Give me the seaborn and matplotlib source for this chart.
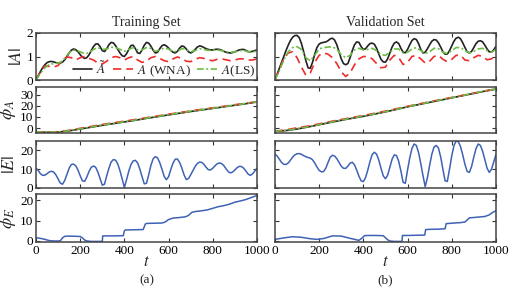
import matplotlib
matplotlib.use("Agg")
import matplotlib.pyplot as plt
import numpy as np
import pandas as pd
import seaborn as sns

# time grids the values were read on
t10 = np.arange(0, 1001, 10)
t20 = np.arange(0, 1001, 20)
t50 = np.arange(0, 1001, 50)

# |A| -- training set (A tilde on t10, the others on t20)
amp_tilde_tr = [0.0, 0.18, 0.36, 0.52, 0.65, 0.74, 0.78, 0.79, 0.77, 0.74, 0.72, 0.72, 0.76, 0.86, 1.0,
                1.15, 1.27, 1.32, 1.29, 1.2, 1.08, 0.97, 0.92, 0.95, 1.07, 1.25, 1.42, 1.53, 1.54, 1.42,
                1.25, 1.21, 1.33, 1.5, 1.6, 1.58, 1.46, 1.3, 1.15, 1.03, 1.0, 1.12, 1.3, 1.47, 1.48,
                1.33, 1.15, 1.13, 1.28, 1.48, 1.6, 1.57, 1.44, 1.27, 1.15, 1.18, 1.33, 1.46, 1.5, 1.45,
                1.36, 1.26, 1.18, 1.15, 1.22, 1.36, 1.45, 1.42, 1.32, 1.2, 1.15, 1.2, 1.3, 1.4, 1.45,
                1.43, 1.38, 1.33, 1.3, 1.28, 1.28, 1.3, 1.31, 1.3, 1.27, 1.22, 1.18, 1.16, 1.15, 1.17,
                1.2, 1.24, 1.28, 1.3, 1.3, 1.26, 1.21, 1.2, 1.22, 1.25, 1.28]
amp_wna_tr = [0.0, 0.35, 0.6, 0.58, 0.55, 0.62, 0.85, 0.98, 0.95, 0.85, 0.95, 1.0, 0.92, 0.85, 0.72, 0.68,
              0.8, 0.95, 1.0, 0.95, 0.85, 0.95, 1.0, 0.85, 0.75, 0.8, 0.95, 1.0, 0.92, 0.82, 0.78, 0.9, 0.98,
              0.92, 0.8, 0.78, 0.88, 0.95, 0.92, 0.85, 0.82, 0.88, 0.9, 0.86, 0.82, 0.85, 0.9, 0.9, 0.85, 0.85, 0.9]
amp_ls_tr = [0.0, 0.28, 0.52, 0.66, 0.7, 0.72, 0.8, 1.05, 1.25, 1.27, 1.2, 1.12, 1.15, 1.3, 1.38, 1.3,
             1.32, 1.4, 1.38, 1.3, 1.22, 1.3, 1.38, 1.28, 1.28, 1.38, 1.35, 1.22, 1.28, 1.36, 1.32, 1.2, 1.22,
             1.34, 1.3, 1.2, 1.25, 1.33, 1.3, 1.26, 1.27, 1.28, 1.25, 1.2, 1.18, 1.2, 1.25, 1.26, 1.2, 1.2, 1.22]

# |A| -- validation set
amp_tilde_va = [0.0, 0.25, 0.5, 0.75, 1.0, 1.25, 1.48, 1.68, 1.82, 1.89, 1.9, 1.8, 1.55, 1.2, 0.82, 0.52,
                0.5, 0.75, 1.1, 1.38, 1.53, 1.58, 1.6, 1.62, 1.67, 1.75, 1.78, 1.7, 1.5, 1.2, 0.9, 0.7,
                0.65, 0.7, 0.95, 1.25, 1.5, 1.62, 1.6, 1.42, 1.3, 1.33, 1.45, 1.55, 1.57, 1.52, 1.35,
                1.1, 0.88, 0.77, 0.76, 0.9, 1.15, 1.4, 1.57, 1.62, 1.55, 1.35, 1.18, 1.16, 1.3, 1.5,
                1.68, 1.76, 1.72, 1.55, 1.3, 1.15, 1.18, 1.33, 1.5, 1.65, 1.72, 1.7, 1.58, 1.4, 1.2,
                1.1, 1.1, 1.25, 1.45, 1.65, 1.78, 1.82, 1.75, 1.58, 1.38, 1.2, 1.15, 1.22, 1.38, 1.55,
                1.65, 1.67, 1.62, 1.48, 1.32, 1.2, 1.19, 1.28, 1.43]
amp_wna_va = [0.0, 0.45, 0.9, 1.15, 1.2, 0.95, 0.55, 0.2, 0.3, 0.75, 1.05, 1.15, 1.1, 0.95, 0.7, 0.35,
              0.15, 0.3, 0.65, 0.9, 1.0, 1.0, 0.9, 0.7, 0.52, 0.55, 0.85, 1.05, 0.95, 0.66, 0.75, 1.0, 1.05,
              0.9, 0.72, 0.8, 1.0, 1.05, 0.88, 0.78, 0.88, 1.05, 1.05, 0.85, 0.82, 0.95, 1.05, 1.0, 0.86, 0.9, 1.05]
amp_ls_va = [0.0, 0.4, 0.85, 1.2, 1.38, 1.42, 1.3, 0.95, 0.82, 1.05, 1.32, 1.38, 1.4, 1.42, 1.3, 1.08,
             0.95, 1.05, 1.28, 1.35, 1.28, 1.3, 1.35, 1.25, 1.08, 1.05, 1.18, 1.32, 1.32, 1.15, 1.18, 1.32, 1.38,
             1.25, 1.12, 1.2, 1.35, 1.33, 1.18, 1.12, 1.25, 1.38, 1.38, 1.25, 1.15, 1.22, 1.32, 1.35, 1.25, 1.18, 1.3]

# phi_A (t50)
ph_tilde_tr = [-3.5, -3.8, -3.6, -2.5, -0.8, 0.8, 2.5, 4.0, 5.5, 7.0, 8.7, 10.2, 11.8, 13.3, 14.8, 16.2,
               17.6, 19.0, 20.4, 21.8, 23.3]
ph_wna_tr = [-3.5, -3.6, -3.2, -2.0, -0.2, 1.5, 3.2, 4.7, 6.2, 7.7, 9.3, 10.8, 12.4, 13.9, 15.3, 16.8,
             18.1, 19.5, 20.9, 22.2, 23.6]
ph_ls_tr = [-3.4, -3.6, -3.4, -2.3, -0.6, 1.0, 2.7, 4.2, 5.7, 7.2, 8.9, 10.4, 12.0, 13.5, 15.0, 16.4,
            17.8, 19.2, 20.6, 22.0, 23.5]
ph_tilde_va = [-3.0, -2.2, -0.8, 1.0, 3.0, 5.0, 7.0, 8.8, 10.5, 12.5, 14.5, 16.7, 19.0, 21.0, 23.0, 25.0,
               27.0, 29.0, 31.0, 33.0, 34.8]
ph_wna_va = [-2.8, -1.5, 0.2, 1.8, 3.8, 5.8, 7.7, 9.5, 11.2, 13.2, 15.2, 17.3, 19.5, 21.5, 23.5, 25.4,
             27.4, 29.3, 31.2, 33.2, 35.0]
ph_ls_va = [-2.9, -2.0, -0.6, 1.2, 3.2, 5.2, 7.2, 9.0, 10.7, 12.7, 14.7, 16.9, 19.2, 21.2, 23.2, 25.2,
            27.2, 29.2, 31.2, 33.2, 35.0]

# |E| (t10)
err_tr = [10.6, 9.3, 7.6, 6.7, 6.8, 7.6, 8.5, 8.9, 8.5, 7.0, 4.8, 2.6, 2.0, 4.0, 7.2, 10.5, 12.5, 12.7,
          11.8, 9.5, 6.5, 3.8, 3.5, 5.8, 8.8, 11.0, 11.7, 11.0, 8.5, 5.0, 1.5, 2.0, 6.5, 10.5, 13.8, 15.1,
          14.8, 12.8, 9.2, 4.8, 0.3, 4.5, 9.0, 12.5, 14.4, 14.7, 13.3, 10.0, 6.0, 2.2, 2.5, 7.0, 12.0,
          15.5, 16.7, 16.0, 13.5, 10.0, 6.2, 4.4, 6.0, 9.8, 13.2, 15.3, 15.4, 13.6, 10.6, 7.0, 4.5, 5.0,
          7.0, 9.2, 11.4, 13.0, 13.8, 13.6, 12.6, 11.0, 9.7, 9.6, 10.5, 11.8, 12.9, 13.3, 13.0, 11.9,
          10.2, 8.7, 8.0, 8.5, 9.6, 10.8, 11.5, 11.4, 10.5, 9.0, 7.4, 6.7, 7.5, 9.0, 10.6]
err_va = [18.0, 17.0, 15.3, 13.6, 12.6, 12.5, 13.3, 14.8, 16.4, 17.6, 18.2, 18.3, 17.9, 17.2, 16.6, 16.2,
          15.9, 15.0, 13.3, 11.2, 9.4, 8.6, 8.7, 10.5, 13.5, 16.3, 17.4, 17.0, 15.6, 13.6, 11.6, 10.5,
          10.4, 11.6, 13.2, 13.7, 12.3, 9.5, 6.3, 3.8, 3.4, 5.5, 9.5, 14.0, 17.8, 19.0, 18.0, 14.8, 10.5,
          6.5, 4.9, 6.8, 11.0, 15.3, 17.6, 17.3, 14.2, 9.0, 3.0, 2.5, 9.5, 16.0, 21.0, 23.4, 22.6, 18.8,
          13.0, 6.5, 0.7, 5.5, 12.0, 18.0, 21.8, 22.6, 21.2, 16.5, 10.0, 3.8, 3.5, 10.0, 17.0, 22.5,
          25.0, 24.6, 22.0, 17.5, 12.5, 8.8, 8.3, 11.5, 16.5, 21.0, 23.4, 22.6, 19.5, 15.0, 10.5, 8.3,
          10.0, 13.8, 17.7]

# phi_E
tE_tr = [0, 20, 40, 60, 80, 100, 110, 120, 130, 150, 180, 200, 210, 220, 230, 250, 280, 300, 302, 310,
         350, 395, 400, 405, 450, 485, 495, 500, 540, 570, 585, 600, 620, 650, 675, 690, 705, 720, 750,
         775, 800, 825, 850, 875, 900, 925, 950, 975, 1000]
phE_tr = [1.6, 1.3, 0.8, 0.2, 0.0, 0.0, 0.1, 1.5, 2.3, 2.4, 2.3, 2.2, 1.5, 0.5, 0.0, -0.2, -0.2, -0.2,
          2.5, 2.5, 2.5, 2.6, 5.0, 5.4, 5.5, 5.6, 8.3, 8.6, 8.7, 8.8, 9.3, 10.5, 11.2, 11.5, 11.8, 12.5,
          14.0, 14.4, 14.8, 15.2, 16.0, 16.8, 17.3, 18.0, 19.0, 19.6, 20.3, 21.3, 22.3]
tE_va = [0, 40, 80, 120, 160, 190, 220, 260, 300, 340, 380, 395, 405, 420, 450, 490, 500, 510, 520, 540,
         575, 577, 600, 640, 678, 682, 700, 740, 770, 775, 800, 840, 860, 870, 880, 920, 950, 970, 985, 1000]
phE_va = [0.8, 1.5, 2.1, 1.8, 1.1, 0.8, 1.2, 2.5, 2.4, 1.3, 0.3, 1.5, 2.6, 2.7, 2.7, 2.6, 1.6, 0.6, 0.0,
          -0.2, -0.2, 2.7, 2.7, 2.8, 2.9, 5.6, 5.7, 5.8, 6.0, 8.5, 8.7, 9.0, 9.3, 10.3, 11.3, 11.7, 12.0,
          12.8, 14.0, 14.8]

BLACK, RED, GREEN, BLUE = "#222222", "#ee2c2c", "#6cbd45", "#3f62b5"

sns.set_style("ticks")
plt.rcParams["font.family"] = ["Liberation Serif", "DejaVu Serif"]
plt.rcParams["mathtext.fontset"] = "stix"
plt.rcParams["font.size"] = 9

fig = plt.figure(figsize=(5.12, 2.92), dpi=100)
cols = [0.0703, 0.537]
w = 0.4316
rows = [(0.726, 0.161), (0.5445, 0.156), (0.3562, 0.161), (0.1712, 0.1644)]
axes = [[fig.add_axes([c, b, w, h]) for c in cols] for (b, h) in rows]


def three(ax, ta, a, tb, b, c):
    sns.lineplot(x=ta, y=a, ax=ax, color=BLACK, lw=1.2, estimator=None, label=r"$\tilde{A}$")
    sns.lineplot(x=tb, y=b, ax=ax, color=RED, lw=1.2, estimator=None, label=r"$A$ (WNA)",
                 linestyle=(0, (5, 3)))
    sns.lineplot(x=tb, y=c, ax=ax, color=GREEN, lw=1.2, estimator=None, label=r"$A$(LS)",
                 linestyle=(0, (4, 1.5, 1.2, 1.5)))


three(axes[0][0], t10, amp_tilde_tr, t20, amp_wna_tr, amp_ls_tr)
three(axes[0][1], t10, amp_tilde_va, t20, amp_wna_va, amp_ls_va)
three(axes[1][0], t50, ph_tilde_tr, t50, ph_wna_tr, ph_ls_tr)
three(axes[1][1], t50, ph_tilde_va, t50, ph_wna_va, ph_ls_va)
sns.lineplot(x=t10, y=err_tr, ax=axes[2][0], color=BLUE, lw=1.1, estimator=None)
sns.lineplot(x=t10, y=err_va, ax=axes[2][1], color=BLUE, lw=1.1, estimator=None)
sns.lineplot(x=tE_tr, y=phE_tr, ax=axes[3][0], color=BLUE, lw=1.1, estimator=None, sort=False)
sns.lineplot(x=tE_va, y=phE_va, ax=axes[3][1], color=BLUE, lw=1.1, estimator=None, sort=False)

ylims = [(0, 2), (-4.4, 36.3), (0, 25), (-0.5, 23)]
yticks = [[0, 1, 2], [0, 10, 20, 30], [0, 10, 20], [0, 10, 20]]
ylabels = [r"$|A|$", r"$\phi_A$", r"$|E|$", r"$\phi_E$"]

for r in range(4):
    for c in range(2):
        ax = axes[r][c]
        ax.set_xlim(0, 1000)
        ax.set_ylim(*ylims[r])
        ax.set_yticks(yticks[r])
        ax.set_xticks([0, 200, 400, 600, 800, 1000])
        ax.tick_params(direction="in", top=True, right=True, length=3, width=0.8,
                       labelsize=9.5, pad=2, colors="#333333", labelcolor="black")
        for s in ax.spines.values():
            s.set_visible(True)
            s.set_color("#444444")
            s.set_linewidth(1.1)
        ax.set_xlabel("")
        ax.set_ylabel("")
        if ax.get_legend() is not None:
            ax.get_legend().remove()
        if r < 3:
            ax.tick_params(labelbottom=False)
        else:
            ax.set_xlabel(r"$t$", fontsize=12, labelpad=-2)
        if c == 1:
            ax.tick_params(labelleft=False)
        else:
            ax.set_ylabel(ylabels[r], fontsize=13, labelpad=1)

axes[0][0].set_title("Training Set", fontsize=10, pad=5)
axes[0][1].set_title("Validation Set", fontsize=10, pad=5)

h, l = axes[0][0].get_legend_handles_labels()
axes[0][0].legend(h, l, loc="lower right", ncol=3, frameon=False, fontsize=9.5,
                  handlelength=1.5, handletextpad=0.3, columnspacing=0.5,
                  borderaxespad=0.0, borderpad=0.1)

fig.text(cols[0] + w / 2, 0.03, "(a)", ha="center", fontsize=9.5)
fig.text(cols[1] + w / 2, 0.03, "(b)", ha="center", fontsize=9.5)

fig.savefig("out.png", dpi=100)
